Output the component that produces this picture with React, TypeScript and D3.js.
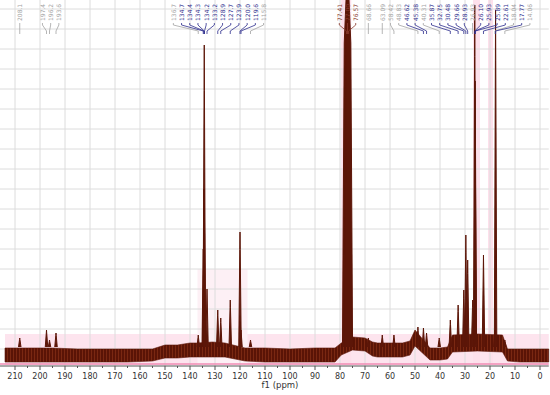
import React from 'react';
import * as d3 from 'd3';

// peak list (ppm, height in grid steps above the baseline)
const peakLabels = [
  '208.1', '197.4', '196.2', '193.6',
  '136.7', '134.7', '134.4', '134.3', '134.2', '133.2', '128.9', '127.7', '123.9', '120.0', '119.6', '115.8',
  '77.41', '77.00', '76.57',
  '68.66', '63.09', '58.42', '48.83', '46.62', '45.38', '40.31', '35.87', '32.75', '30.48', '29.66',
  '28.93', '26.93', '26.10', '25.93', '25.89', '22.61', '18.04', '17.77', '14.06',
];
const peakHeights = [
  0.55, 0.95, 0.45, 0.8,
  0.7, 5.0, 8.0, 15.2, 6.5, 3.0, 1.95, 1.55, 2.45, 5.85, 0.95, 0.45,
  18, 18, 18,
  0.55, 0.7, 0.7, 1.1, 1.05, 0.8, 0.55, 1.45, 2.2, 2.95, 5.7,
  4.45, 2.45, 17.2, 13.4, 10.0, 4.7, 0.95, 16.95, 0.45,
];
// b = assigned (blue), g = minor (grey), s = solvent
const peakKinds = [
  'g', 'g', 'g', 'g',
  'g', 'b', 'b', 'b', 'b', 'b', 'b', 'b', 'b', 'b', 'b', 'g',
  's', 's', 's',
  'g', 'g', 'g', 'g', 'b', 'b', 'g', 'b', 'b', 'b', 'b',
  'b', 'g', 'b', 'b', 'b', 'b', 'g', 'b', 'g',
];

// baseline noise envelope
const noisePpm = [214, 205, 195, 185, 175, 165, 155, 150, 145, 140, 137, 131, 126, 118, 110, 100, 90, 82, 79.5, 75, 70, 67, 65, 60, 55, 52, 50, 47, 44, 40, 37, 35, 25, 15, 13, 8, 4, 0, -3.5];
const noiseTop = [0.05, 0.05, 0.05, 0.0, 0.0, 0.0, 0.0, 0.2, 0.2, 0.3, 0.3, 0.35, 0.3, 0.05, 0.05, 0.0, 0.05, 0.05, 0.3, 0.6, 0.55, 0.35, 0.3, 0.3, 0.3, 0.4, 0.95, 0.5, 0.05, 0.05, 0.1, 0.7, 0.75, 0.7, 0.0, 0.0, 0.0, 0.0, 0.0];
const noiseBottom = [-0.65, -0.65, -0.65, -0.65, -0.65, -0.65, -0.6, -0.45, -0.45, -0.4, -0.4, -0.4, -0.4, -0.6, -0.65, -0.65, -0.65, -0.65, -0.3, -0.05, -0.1, -0.35, -0.4, -0.4, -0.4, -0.3, 0.15, -0.2, -0.55, -0.55, -0.5, -0.15, -0.1, -0.15, -0.6, -0.65, -0.65, -0.65, -0.65];

const tickPpm = [210, 200, 190, 180, 170, 160, 150, 140, 130, 120, 110, 100, 90, 80, 70, 60, 50, 40, 30, 20, 10, 0];

// highlighted (pink) ranges: [ppm from, ppm to, bottom, top]
const highlightFrom = [214, 137, 79.5, 26.8, 20.8];
const highlightTo = [-3.5, 117, 75.5, 24.0, 18.8];
const highlightBottom = [-0.8, -0.8, -0.8, -0.8, -0.8];
const highlightTop = [0.75, 4, 17.45, 17.45, 17.45];

const W = 550;
const H = 395;

const kindColor: Record<string, string> = { b: '#2e2e8e', g: '#a3a3a3', s: '#8a3b2e' };
const traceColor = '#5c1608';

function spreadLabels(xs: number[], gap: number) {
  // overlapping labels get packed evenly around their mean
  let groups = xs.map((x, i) => ({ idx: [i], center: x }));
  let changed = true;
  while (changed) {
    changed = false;
    for (let i = 0; i < groups.length - 1; i++) {
      const a = groups[i];
      const b = groups[i + 1];
      const aEnd = a.center + ((a.idx.length - 1) * gap) / 2;
      const bStart = b.center - ((b.idx.length - 1) * gap) / 2;
      if (bStart - aEnd < gap) {
        const idx = a.idx.concat(b.idx);
        const center = d3.mean(idx, (k) => xs[k]) as number;
        groups.splice(i, 2, { idx, center });
        changed = true;
        break;
      }
    }
  }
  const out: number[] = new Array(xs.length);
  groups.forEach((g) => {
    const start = g.center - ((g.idx.length - 1) * gap) / 2;
    g.idx.forEach((k, j) => (out[k] = start + j * gap));
  });
  return out;
}

export default function App() {
  const x = d3.scaleLinear().domain([216, 0]).range([0, 540]);
  const y = d3.scaleLinear().domain([0, 17]).range([349, 9]);
  const axisY = 366;

  const peakPpm = peakLabels.map((s) => +s);
  const peakX = peakPpm.map((p) => x(p));
  const labelX = spreadLabels(peakX, 8.2);

  const noise = d3
    .area<number>()
    .x((i) => x(noisePpm[i]))
    .y0((i) => y(noiseBottom[i]))
    .y1((i) => y(noiseTop[i]));

  const peakLine = d3
    .line<[number, number]>()
    .x((d) => x(d[0]))
    .y((d) => y(d[1]));

  const peakPath = (i: number) => {
    const p = peakPpm[i];
    const h = peakHeights[i];
    const solvent = peakKinds[i] === 's';
    const wb = solvent ? 1.6 : 0.5;
    const wt = solvent ? 0.9 : 0.08;
    const pts: [number, number][] = [
      [p + wb, 0.1],
      [p + wt, h * 0.85],
      [p, h],
      [p - wt, h * 0.85],
      [p - wb, 0.1],
    ];
    return peakLine(pts) as string;
  };

  const hGrid = d3.range(0, 18);
  const minorTicks = tickPpm.slice(1).map((t) => t + 5);

  return (
    <svg
      width={W}
      height={H}
      style={{ position: 'absolute', left: 0, top: 0, background: '#fff' }}
      fontFamily="DejaVu Sans, Verdana, sans-serif"
    >
      <defs>
        <clipPath id="plot">
          <rect x={0} y={0} width={W} height={axisY} />
        </clipPath>
        <pattern id="grain" width={3} height={4} patternUnits="userSpaceOnUse">
          <rect width={3} height={4} fill="#5a1406" />
          <rect x={1} width={1} height={4} fill="#7a2812" />
        </pattern>
      </defs>

      {/* highlighted ranges */}
      {highlightFrom.map((f, i) => (
        <rect
          key={'hl' + i}
          x={x(f)}
          y={y(highlightTop[i])}
          width={x(highlightTo[i]) - x(f)}
          height={y(highlightBottom[i]) - y(highlightTop[i])}
          fill={i === 0 ? '#fde4ee' : i === 1 ? '#fdf0f5' : '#fde0eb'}
        />
      ))}

      {/* grid */}
      {hGrid.map((g) => (
        <line key={'hg' + g} x1={x(216)} x2={x(-3.5)} y1={y(g)} y2={y(g)} stroke="#dcdcdc" strokeWidth={1} />
      ))}
      {tickPpm.map((t) => (
        <line key={'vg' + t} x1={x(t)} x2={x(t)} y1={0} y2={axisY} stroke="#dcdcdc" strokeWidth={1} />
      ))}

      <line x1={x(216)} x2={x(-3.5)} y1={y(-0.75)} y2={y(-0.75)} stroke="#f08cb4" strokeWidth={1.5} />

      {/* spectrum */}
      <g clipPath="url(#plot)">
        <path d={noise(d3.range(noisePpm.length)) as string} fill="url(#grain)" stroke={traceColor} strokeWidth={0.6} />
        {peakPpm.map((p, i) => (
          <path key={'pk' + i} d={peakPath(i)} fill={traceColor} stroke={traceColor} strokeWidth={1} strokeLinejoin="round" />
        ))}
      </g>

      {/* peak labels */}
      {peakLabels.map((s, i) => {
        const c = kindColor[peakKinds[i]];
        return (
          <g key={'lb' + i}>
            <text
              transform={`translate(${labelX[i]},21) rotate(-90)`}
              fontSize={6}
              fill={c}
              dominantBaseline="central"
            >
              {s}
            </text>
            <path
              d={`M${labelX[i]},23 L${labelX[i]},25 L${peakX[i]},31 L${peakX[i]},34`}
              fill="none"
              stroke={c}
              strokeWidth={0.8}
            />
          </g>
        );
      })}

      {/* axis */}
      <line x1={x(216)} x2={x(-3.5)} y1={axisY} y2={axisY} stroke="#555" strokeWidth={1} />
      {tickPpm.map((t) => (
        <g key={'tk' + t}>
          <line x1={x(t)} x2={x(t)} y1={axisY} y2={axisY + 4} stroke="#555" />
          <text x={x(t)} y={379} fontSize={8} textAnchor="middle" fill="#333">
            {t}
          </text>
        </g>
      ))}
      {minorTicks.map((t) => (
        <line key={'mt' + t} x1={x(t)} x2={x(t)} y1={axisY} y2={axisY + 2} stroke="#555" />
      ))}
      <text x={x(104)} y={388} fontSize={8.5} textAnchor="middle" fill="#333">
        f1 (ppm)
      </text>
    </svg>
  );
}
